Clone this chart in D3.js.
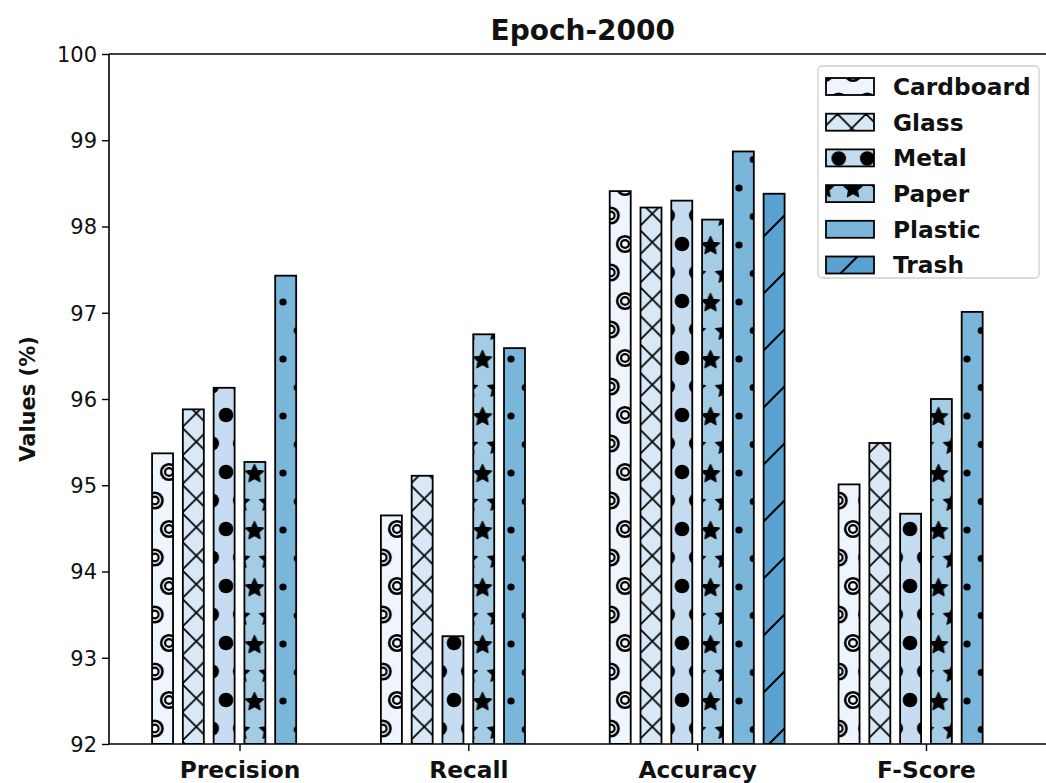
<!DOCTYPE html>
<html>
<head>
<meta charset="utf-8">
<script src="https://cdn.jsdelivr.net/npm/d3@7/dist/d3.min.js"></script>
<style>
  html, body { margin: 0; padding: 0; background: #fff; }
  svg { display: block; font-family: "DejaVu Sans", sans-serif; }
</style>
</head>
<body>
<svg id="chart" width="1046" height="783"></svg>
<script>
// Metric groups along the x axis
const categories = ["Precision", "Recall", "Accuracy", "F-Score"];
// Waste classes (one bar per class in each group)
const classes = ["Cardboard", "Glass", "Metal", "Paper", "Plastic", "Trash"];
// Scores (%) per class, in the order of `categories`; null = below the visible range
const cardboard = [95.37, 94.65, 98.41, 95.01];
const glass     = [95.88, 95.11, 98.22, 95.49];
const metal     = [96.13, 93.25, 98.30, 94.67];
const paper     = [95.27, 96.75, 98.08, 96.00];
const plastic   = [97.43, 96.59, 98.87, 97.01];
const trash     = [null,  null,  98.38, null];
const yTicks = [92, 93, 94, 95, 96, 97, 98, 99, 100];
const titleText = "Epoch-2000";
const yLabel = "Values (%)";

const seriesValues = [cardboard, glass, metal, paper, plastic, trash];
const colors = ["#eef5fc", "#d9e8f6", "#c6dcf0", "#a4cce4", "#7ab6da", "#5aa2d1"];

const svg = d3.select("#chart");
const defs = svg.append("defs");

// Plot frame
const pLeft = 109, pTop = 54, pBottom = 744, pRight = 1056.5;

// Bar geometry in data units (group spacing = 1)
const step = 0.1345, barW = 0.0917;
const minEdge = -2.5 * step - barW / 2;
const maxEdge = (categories.length - 1) + 2.5 * step + barW / 2;
const pad = 0.05 * (maxEdge - minEdge);

const x = d3.scaleLinear().domain([minEdge - pad, maxEdge + pad]).range([pLeft, pRight]);
const y = d3.scaleLinear().domain([92, 100]).range([pBottom, pTop]);

// ---- hatch patterns (anchored to the page, like figure-space hatching) ----
const cellW = 28.5, cellH = 57;       // shape lattice: rows every 28.5px, alternate rows shifted
const phaseX = 26.5, phaseY = 16;
const rowA = [[0, 0], [cellW, 0], [0, cellH], [cellW, cellH]];
const rowB = [[cellW / 2, cellH / 2]];
const allPts = rowA.concat(rowB);

function shapePattern(id, color, drawShape) {
  const p = defs.append("pattern")
    .attr("id", id)
    .attr("patternUnits", "userSpaceOnUse")
    .attr("width", cellW).attr("height", cellH)
    .attr("patternTransform", `translate(${phaseX},${phaseY})`);
  p.append("rect").attr("width", cellW).attr("height", cellH).attr("fill", color);
  allPts.forEach(([cx, cy]) => drawShape(p, cx, cy));
}

function starPath(cx, cy, rOut, rIn) {
  const pts = [];
  for (let i = 0; i < 10; i++) {
    const r = i % 2 === 0 ? rOut : rIn;
    const a = -Math.PI / 2 + i * Math.PI / 5;
    pts.push([cx + r * Math.cos(a), cy + r * Math.sin(a)]);
  }
  return "M" + pts.map(p => p.join(",")).join("L") + "Z";
}

// Cardboard: concentric rings
shapePattern("h0", colors[0], (p, cx, cy) => {
  p.append("circle").attr("cx", cx).attr("cy", cy).attr("r", 7.8)
    .attr("fill", "none").attr("stroke", "#000").attr("stroke-width", 2.6);
  p.append("circle").attr("cx", cx).attr("cy", cy).attr("r", 3.9)
    .attr("fill", "none").attr("stroke", "#000").attr("stroke-width", 2.2);
});

// Glass: dense cross-hatch
(function () {
  const s = 28.5;
  const p = defs.append("pattern")
    .attr("id", "h1")
    .attr("patternUnits", "userSpaceOnUse")
    .attr("width", s).attr("height", s)
    .attr("patternTransform", "translate(11,0)");
  p.append("rect").attr("width", s).attr("height", s).attr("fill", colors[1]);
  const segs = [
    [-2, 2, 2, -2], [-2, s + 2, s + 2, -2], [s - 2, s + 2, s + 2, s - 2],
    [-2, s - 2, 2, s + 2], [-2, -2, s + 2, s + 2], [s - 2, -2, s + 2, 2]
  ];
  segs.forEach(([x1, y1, x2, y2]) => p.append("line")
    .attr("x1", x1).attr("y1", y1).attr("x2", x2).attr("y2", y2)
    .attr("stroke", "#000").attr("stroke-width", 1.8));
})();

// Metal: large filled dots
shapePattern("h2", colors[2], (p, cx, cy) => {
  p.append("circle").attr("cx", cx).attr("cy", cy).attr("r", 7.3).attr("fill", "#000");
});

// Paper: stars
shapePattern("h3", colors[3], (p, cx, cy) => {
  p.append("path").attr("d", starPath(cx, cy + 2, 9.6, 4.6))
    .attr("fill", "#000").attr("stroke", "#000").attr("stroke-width", 1.2)
    .attr("stroke-linejoin", "round");
});

// Plastic: small dots
shapePattern("h4", colors[4], (p, cx, cy) => {
  p.append("circle").attr("cx", cx).attr("cy", cy + 1).attr("r", 3.6).attr("fill", "#000");
});

// Trash: single forward diagonal
(function () {
  const s = 57;
  const p = defs.append("pattern")
    .attr("id", "h5")
    .attr("patternUnits", "userSpaceOnUse")
    .attr("width", s).attr("height", s)
    .attr("patternTransform", "translate(31,0)");
  p.append("rect").attr("width", s).attr("height", s).attr("fill", colors[5]);
  const segs = [[-3, 3, 3, -3], [-3, s + 3, s + 3, -3], [s - 3, s + 3, s + 3, s - 3]];
  segs.forEach(([x1, y1, x2, y2]) => p.append("line")
    .attr("x1", x1).attr("y1", y1).attr("x2", x2).attr("y2", y2)
    .attr("stroke", "#000").attr("stroke-width", 2));
})();

// ---- bars ----
defs.append("clipPath").attr("id", "plotClip")
  .append("rect").attr("x", pLeft).attr("y", pTop)
  .attr("width", pRight - pLeft).attr("height", pBottom - pTop);

const barsG = svg.append("g").attr("clip-path", "url(#plotClip)");
classes.forEach((cls, si) => {
  const vals = seriesValues[si];
  const rows = categories.map((c, gi) => ({ gi, v: vals[gi] })).filter(d => d.v !== null);
  barsG.selectAll(null).data(rows).enter().append("rect")
    .attr("x", d => x(d.gi + (si - 2.5) * step - barW / 2))
    .attr("width", d => x(barW) - x(0))
    .attr("y", d => y(d.v))
    .attr("height", d => y(92) - y(d.v))
    .attr("fill", `url(#h${si})`)
    .attr("stroke", "#000")
    .attr("stroke-width", 1.8);
});

// ---- axes ----
const yAxis = d3.axisLeft(y).tickValues(yTicks).tickFormat(d3.format("d")).tickSize(7).tickPadding(5);
const yG = svg.append("g").attr("transform", `translate(${pLeft},0)`).call(yAxis);
yG.select(".domain").remove();
yG.selectAll(".tick line").attr("stroke", "#000").attr("stroke-width", 1.4);
yG.selectAll(".tick text").attr("font-size", 21).attr("fill", "#111")
  .attr("font-family", "DejaVu Sans").attr("dy", "0.35em");

const xAxis = d3.axisBottom(x).tickValues(categories.map((c, i) => i))
  .tickFormat(i => categories[i]).tickSize(7).tickPadding(10);
const xG = svg.append("g").attr("transform", `translate(0,${pBottom})`).call(xAxis);
xG.select(".domain").remove();
xG.selectAll(".tick line").attr("stroke", "#000").attr("stroke-width", 1.4);
xG.selectAll(".tick text").attr("font-size", 23.3).attr("font-weight", "bold")
  .attr("fill", "#111").attr("font-family", "DejaVu Sans").attr("dy", "0.71em");

// spines
const spine = svg.append("g").attr("stroke", "#000").attr("stroke-width", 1.6).attr("fill", "none");
spine.append("line").attr("x1", pLeft).attr("x2", pLeft).attr("y1", pTop).attr("y2", pBottom);
spine.append("line").attr("x1", pLeft).attr("x2", pRight).attr("y1", pBottom).attr("y2", pBottom);
spine.append("line").attr("x1", pLeft).attr("x2", pRight).attr("y1", pTop).attr("y2", pTop);
spine.append("line").attr("x1", pRight).attr("x2", pRight).attr("y1", pTop).attr("y2", pBottom);

// title and y label
svg.append("text").attr("x", (pLeft + pRight) / 2).attr("y", 40)
  .attr("text-anchor", "middle").attr("font-size", 28).attr("font-weight", "bold")
  .attr("fill", "#111").text(titleText);

svg.append("text")
  .attr("transform", `translate(35,${(pTop + pBottom) / 2}) rotate(-90)`)
  .attr("text-anchor", "middle").attr("font-size", 21).attr("font-weight", "bold")
  .attr("fill", "#111").text(yLabel);

// ---- legend ----
const lg = svg.append("g");
lg.append("rect").attr("x", 818).attr("y", 66).attr("width", 221).attr("height", 212)
  .attr("rx", 4).attr("fill", "#fff").attr("fill-opacity", 0.85)
  .attr("stroke", "#cfcfcf").attr("stroke-width", 1.3);
classes.forEach((cls, si) => {
  const cy = 86.5 + si * 35.7;
  lg.append("rect").attr("x", 826).attr("y", cy - 8.5).attr("width", 48).attr("height", 17)
    .attr("fill", `url(#h${si})`).attr("stroke", "#000").attr("stroke-width", 1.8);
  lg.append("text").attr("x", 893).attr("y", cy).attr("dy", "0.36em")
    .attr("font-size", 23.3).attr("font-weight", "bold").attr("fill", "#111").text(cls);
});
</script>
</body>
</html>
